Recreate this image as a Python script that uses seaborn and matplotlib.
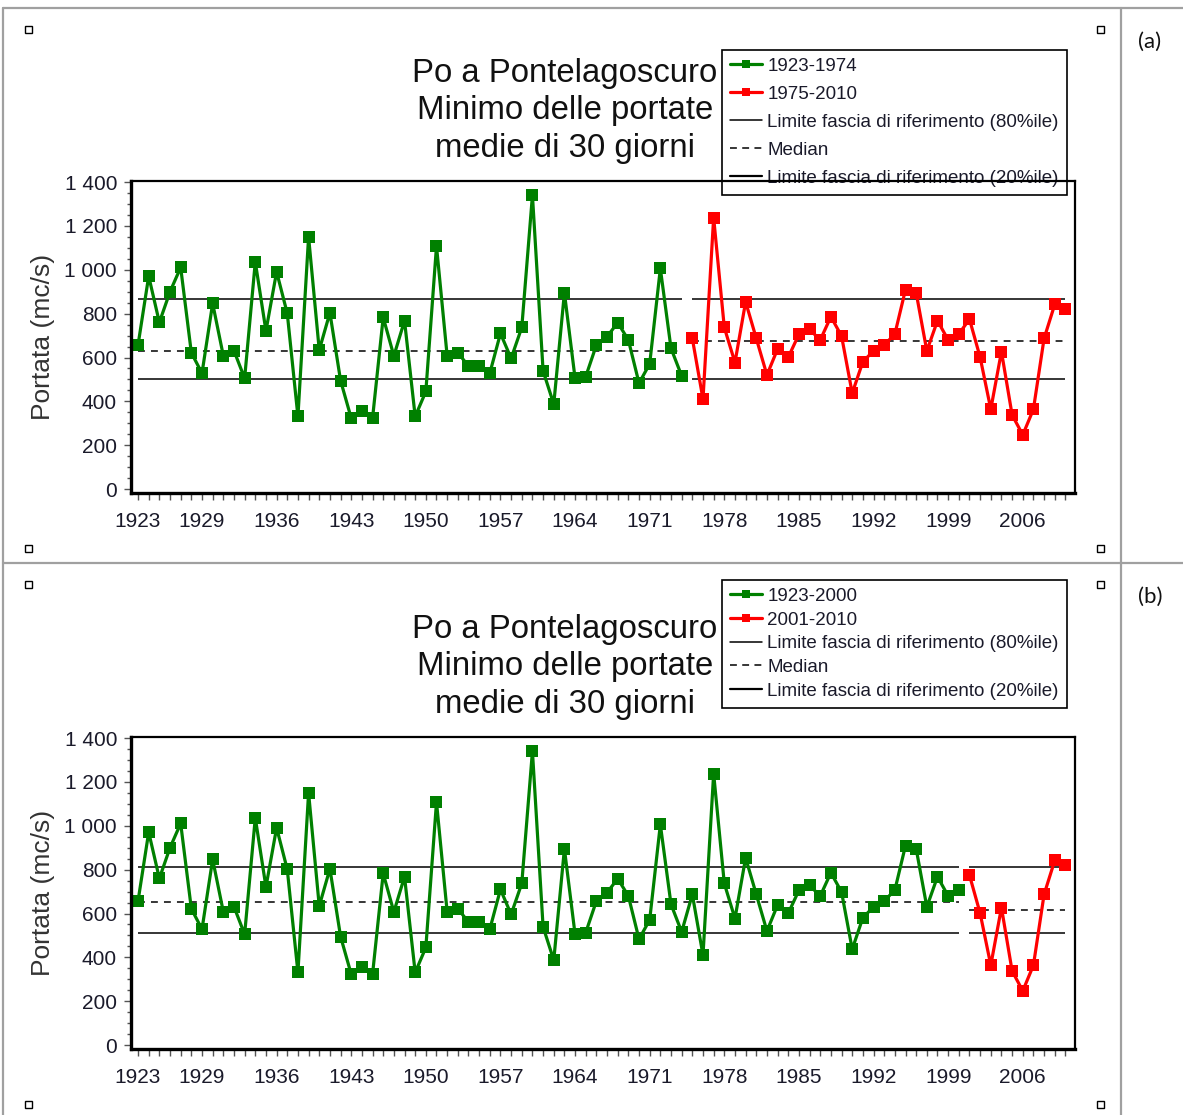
# -*- coding: utf-8 -*-
"""
Po a Pontelagoscuro - minimo delle portate medie di 30 giorni
two panels: (a) split at 1974/1975, (b) split at 2000/2001
"""

import numpy as np
import pandas as pd
import matplotlib.pyplot as plt
import seaborn as sns
from matplotlib.lines import Line2D
from matplotlib.patches import Rectangle
from matplotlib.ticker import MultipleLocator, FixedLocator, FixedFormatter

# data
anni = list(range(1923, 2011))
portate = [657, 971, 760, 900, 1011, 622, 528, 847, 608, 631,
           505, 1036, 721, 991, 801, 331, 1150, 634, 804, 495,
           323, 358, 323, 783, 607, 768, 331, 445, 1108, 607,
           622, 561, 561, 528, 710, 596, 737, 1340, 539, 387,
           895, 505, 513, 657, 695, 759, 680, 483, 571, 1006,
           642, 516, 687, 410, 1238, 737, 577, 854, 687, 520,
           639, 601, 706, 728, 680, 786, 698, 437, 581, 630,
           657, 707, 910, 895, 630, 768, 680, 707, 775, 601,
           364, 627, 338, 247, 364, 687, 842, 819]

# panel settings: last year of the reference period
split_a = 1974
split_b = 2000
# reference band (80%ile, median, 20%ile) and median of the later period
fascia_a = [868, 628, 501]
mediana_rossa_a = 677
fascia_b = [811, 651, 511]
mediana_rossa_b = 614

xtick_anni = [1923, 1929, 1936, 1943, 1950, 1957, 1964, 1971, 1978, 1985, 1992, 1999, 2006]
ytick_val = [0, 200, 400, 600, 800, 1000, 1200, 1400]
ytick_lab = ["0", "200", "400", "600", "800", "1 000", "1 200", "1 400"]

titolo = "Po a Pontelagoscuro\nMinimo delle portate\nmedie di 30 giorni"

sns.set_theme(style="white")
plt.rcParams['font.family'] = ['Liberation Sans', 'DejaVu Sans']

df = pd.DataFrame({"anno": anni, "portata": portate})

W, H = 1183, 1115
fig = plt.figure(figsize=(W / 100, H / 100), dpi=100)
fig.patch.set_facecolor("white")

VERDE = "#008000"
ROSSO = "#ff0000"


def fx(px):
    return px / W


def fy(py):
    return 1 - py / H


def draw_panel(top_px, split, fascia, med_rossa, leg_top, leg_spacing):
    ax = fig.add_axes([fx(131), fy(top_px + 312), fx(944), 312 / H])
    verdi = df[df.anno <= split]
    rossi = df[df.anno > split]

    sns.lineplot(data=verdi, x="anno", y="portata", ax=ax, color=VERDE,
                 marker="s", markersize=8.8, markeredgewidth=0, linewidth=2.3)
    sns.lineplot(data=rossi, x="anno", y="portata", ax=ax, color=ROSSO,
                 marker="s", markersize=8.8, markeredgewidth=0, linewidth=2.3)

    # reference band over each period
    x0, x1 = verdi.anno.min(), verdi.anno.max()
    r0, r1 = rossi.anno.min(), rossi.anno.max()
    ax.hlines([fascia[0], fascia[2]], x0, x1, color="black", lw=1.1, zorder=1.5)
    ax.hlines(fascia[1], x0, x1, color="black", lw=1.1, linestyles=(0, (4.5, 4)), zorder=1.5)
    ax.hlines([fascia[0], fascia[2]], r0, r1, color="black", lw=1.1, zorder=1.5)
    ax.hlines(med_rossa, r0, r1, color="black", lw=1.1, linestyles=(0, (4.5, 4)), zorder=1.5)

    ax.set_xlim(1922.34, 2010.9)
    ax.set_ylim(-18, 1405)

    ax.xaxis.set_major_locator(FixedLocator(xtick_anni))
    ax.xaxis.set_minor_locator(MultipleLocator(1))
    ax.yaxis.set_major_locator(FixedLocator(ytick_val))
    ax.yaxis.set_major_formatter(FixedFormatter(ytick_lab))
    ax.yaxis.set_minor_locator(MultipleLocator(50))
    ax.tick_params(axis="both", which="both", direction="out", colors="#555555",
                   bottom=True, left=True, width=1)
    ax.tick_params(axis="x", which="major", length=5, pad=9, labelsize=15,
                   labelcolor="#1a1a2a")
    ax.tick_params(axis="x", which="minor", length=5)
    ax.tick_params(axis="y", which="major", length=5, pad=5, labelsize=15,
                   labelcolor="#1a1a2a")
    ax.tick_params(axis="y", which="minor", length=3)
    for lab in ax.get_xticklabels() + ax.get_yticklabels():
        lab.set_family(['Liberation Sans Narrow', 'Liberation Sans'])

    ax.set_xlabel("")
    ax.set_ylabel("Portata (mc/s)", fontsize=19, color="#333333")
    ax.yaxis.set_label_coords(-0.081, 0.5)

    for side in ["top", "right"]:
        ax.spines[side].set_linewidth(1.6)
        ax.spines[side].set_color("black")
    for side in ["bottom", "left"]:
        ax.spines[side].set_linewidth(2.4)
        ax.spines[side].set_color("black")

    handles = [
        Line2D([], [], color=VERDE, lw=2.3, marker="s", markersize=6, markeredgewidth=0),
        Line2D([], [], color=ROSSO, lw=2.3, marker="s", markersize=6, markeredgewidth=0),
        Line2D([], [], color="black", lw=1.1),
        Line2D([], [], color="black", lw=1.1, linestyle=(0, (4.5, 3.5))),
        Line2D([], [], color="black", lw=1.6),
    ]
    etichette = [f"{x0}-{x1}", f"{r0}-{r1}",
                 "Limite fascia di riferimento (80%ile)", "Median",
                 "Limite fascia di riferimento (20%ile)"]
    leg = ax.legend(handles, etichette, loc="upper left",
                    bbox_to_anchor=(fx(722), fy(leg_top)), bbox_transform=fig.transFigure,
                    borderaxespad=0, fontsize=13.5, frameon=True, fancybox=False,
                    framealpha=1, edgecolor="black", handlelength=1.7,
                    handletextpad=0.3, labelspacing=leg_spacing, borderpad=0.42)
    leg.get_frame().set_linewidth(1.2)
    for t in leg.get_texts():
        t.set_color("#1a1a2a")
    # legend sits under the frame of the plot, like in the original
    leg.set_zorder(2.4)

    fig.text(fx(565), fy(top_px - 70), titolo, ha="center", va="center",
             fontsize=23.7, linespacing=1.28, color="#111111")
    return ax


draw_panel(181, split_a, fascia_a, mediana_rossa_a, 50, 0.58)
draw_panel(737, split_b, fascia_b, mediana_rossa_b, 580, 0.35)

# table grid of the document page
grigio = "#a0a0a0"
fig.add_artist(Line2D([fx(3), fx(1183)], [fy(8), fy(8)], color=grigio, lw=1.6))
fig.add_artist(Line2D([fx(3), fx(1183)], [fy(563), fy(563)], color=grigio, lw=1.6))
fig.add_artist(Line2D([fx(3), fx(3)], [fy(8), fy(1115)], color=grigio, lw=1.6))
fig.add_artist(Line2D([fx(1121), fx(1121)], [fy(8), fy(1115)], color=grigio, lw=1.6))

# little anchor squares
for (px, py) in [(28, 29), (1100, 29), (28, 548), (1100, 548),
                 (28, 584), (1100, 584), (28, 1104), (1100, 1104)]:
    fig.add_artist(Rectangle((fx(px - 3.5), fy(py + 3.5)), 7 / W, 7 / H,
                             transform=fig.transFigure, facecolor="white",
                             edgecolor="black", lw=1.0))

fig.text(fx(1150), fy(42), "(a)", ha="center", va="center", fontsize=16,
         family=["Lato", "DejaVu Sans"], color="#111111")
fig.text(fx(1150), fy(597), "(b)", ha="center", va="center", fontsize=16,
         family=["Lato", "DejaVu Sans"], color="#111111")

fig.savefig("out.png", dpi=100)
